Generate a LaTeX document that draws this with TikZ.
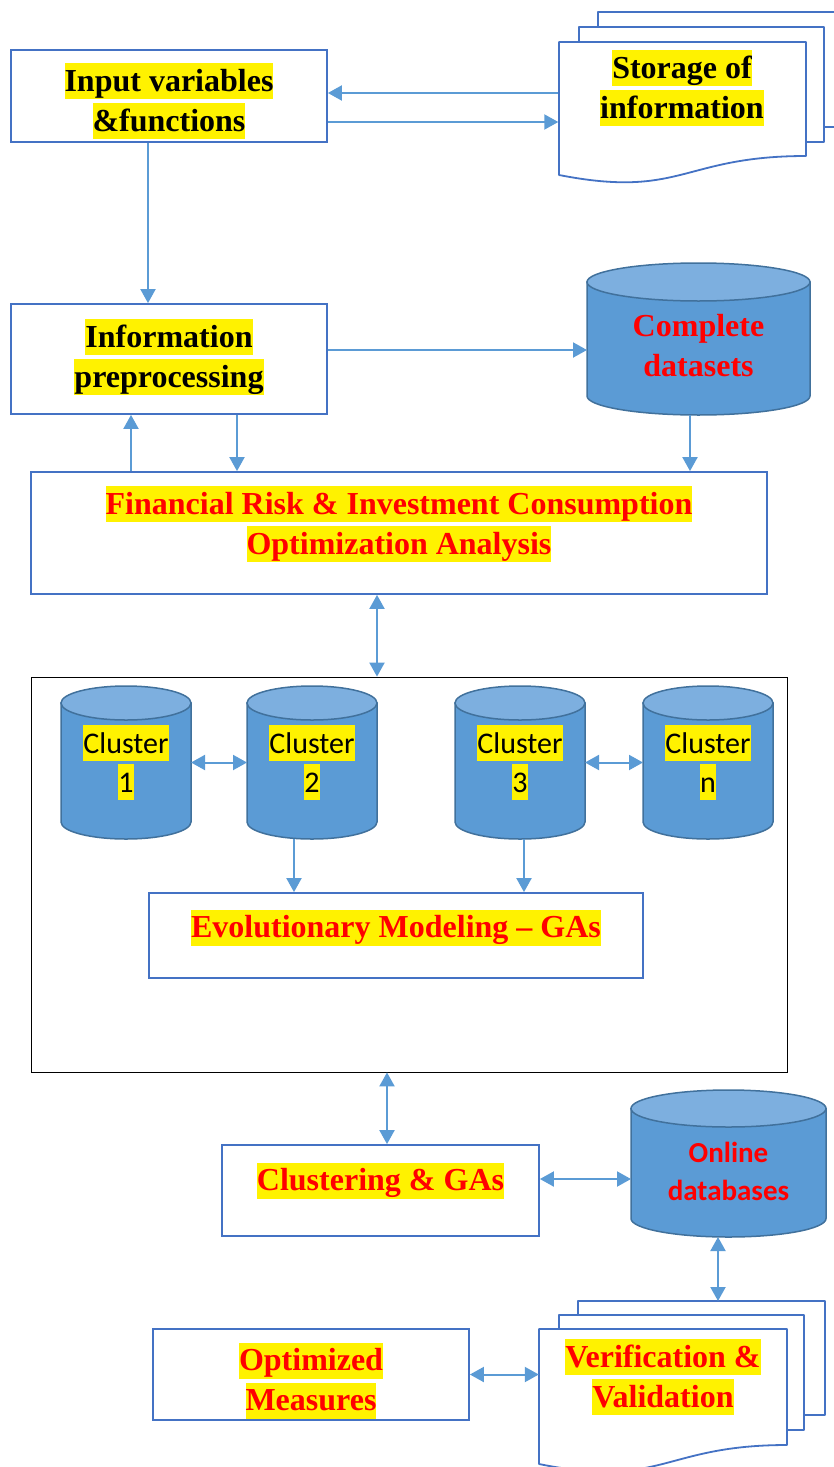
\documentclass[tikz,border=0pt]{standalone}
\usepackage{fontspec}
\setmainfont{Liberation Serif}
\newfontfamily\calfont{Carlito}
\usetikzlibrary{arrows.meta,backgrounds}
\definecolor{boxblue}{HTML}{4472C4}
\definecolor{arrblue}{HTML}{5B9BD5}
\definecolor{cylbody}{HTML}{5B9BD5}
\definecolor{cyltop}{HTML}{7DAFDF}
\definecolor{cylline}{HTML}{41719C}
\newcommand{\hl}[1]{{\setlength{\fboxsep}{0pt}\colorbox{yellow}{\rule[-8pt]{0pt}{36pt}#1}}}
% cylinder drawn round a named node: node, x radius, y radius
\newcommand{\dbshape}[3]{%
	\draw[dbline, fill=cylbody] ([yshift=-#3pt]#1.north west) -- ([yshift=#3pt]#1.south west)
		arc[start angle=180, end angle=360, x radius=#2pt, y radius=#3pt] -- ([yshift=-#3pt]#1.north east) -- cycle;
	\draw[dbline, fill=cyltop] ([yshift=-#3pt]#1.north) ellipse[x radius=#2pt, y radius=#3pt];}
\tikzset{
  box/.style={draw=boxblue, line width=1.8pt, inner sep=0pt},
  title/.style={font=\bfseries\fontsize{32}{40}\selectfont, align=center},
  arr/.style={draw=arrblue, line width=2pt, -{Triangle[length=14pt,width=15pt]}},
  darr/.style={arr, {Triangle[length=14pt,width=15pt]}-{Triangle[length=14pt,width=15pt]}},
  page/.style={draw=boxblue, line width=1.8pt, line join=round},
  dbnode/.style={inner sep=0pt, outer sep=0pt},
  dbline/.style={draw=cylline, line width=1.5pt},
  clusterdb/.style={dbnode, minimum width=130pt, minimum height=153pt,
    font=\calfont\fontsize{30}{39}\selectfont, align=center}
}
\begin{document}
\begin{tikzpicture}[x=1pt, y=-1pt]
	\useasboundingbox (0,0) rectangle (834,1467);
	
	% storage of information
	\draw[page] (598,27) -- (598,12) -- (846,12) -- (846,127) -- (824,127);
	\draw[page] (579,42) -- (579,27) -- (824,27) -- (824,142) -- (806,142);
	\draw[page, fill=white] (559,42) -- (806,42) -- (806,156) .. controls (682,156) and (682,199) .. (559,175) -- cycle;
	\node[title, minimum width=247pt, inner sep=0pt] (store) at (682,88) {\hl{Storage of}\\\hl{information}};
	
	\node[box, minimum width=316pt, minimum height=92pt,
		label={[title, yshift=-5pt]center:{\hl{Input variables}\\\hl{\&functions}}}] (input) at (169,96) {};
	\node[box, minimum width=316pt, minimum height=110pt,
		label={[title, yshift=2pt]center:{\hl{Information}\\\hl{preprocessing}}}] (info) at (169,359) {};
	\node[dbnode, minimum width=223pt, minimum height=152pt,
		label={[title, text=red, yshift=-7pt]center:{Complete\\datasets}}] (complete) at (698.5,339) {};
	\node[box, minimum width=736pt, minimum height=122pt,
		label={[title, text=red, yshift=9pt]center:{\hl{Financial Risk \& Investment Consumption}\\\hl{Optimization Analysis}}}] (fin) at (399,533) {};
	
	% clusters
	\node[draw=black, line width=0.8pt, minimum width=756pt, minimum height=395pt, inner sep=0pt] (frame) at (409,874.5) {};
	\node[clusterdb] (c1) at (126,762.5) {\hl{Cluster}\\\hl{1}};
	\node[clusterdb] (c2) at (312,762.5) {\hl{Cluster}\\\hl{2}};
	\node[clusterdb] (c3) at (520,762.5) {\hl{Cluster}\\\hl{3}};
	\node[clusterdb] (cn) at (708,762.5) {\hl{Cluster}\\\hl{n}};
	\node[box, minimum width=494pt, minimum height=85pt,
		label={[title, text=red, yshift=8pt]center:{\hl{Evolutionary Modeling -- GAs}}}] (evo) at (396,935.5) {};
	
	\node[box, minimum width=317pt, minimum height=91pt,
		label={[title, text=red, yshift=10pt]center:{\hl{Clustering \& GAs}}}] (clus) at (380.5,1190.5) {};
	\node[dbnode, minimum width=195pt, minimum height=147pt,
		label={[font=\calfont\bfseries\fontsize{29}{38}\selectfont, text=red, align=center, yshift=-7.5pt]center:{Online\\databases}}] (online) at (728.5,1163.5) {};
	
	% verification & validation
	\draw[page] (578,1315) -- (578,1301) -- (825,1301) -- (825,1415) -- (804,1415);
	\draw[page] (559,1329) -- (559,1315) -- (804,1315) -- (804,1430) -- (787,1430);
	\draw[page, fill=white] (539,1329) -- (787,1329) -- (787,1445) .. controls (663,1445) and (663,1489) .. (539,1464) -- cycle;
	\node[title, text=red, minimum width=248pt, inner sep=0pt] (verify) at (663,1377) {\hl{Verification \&}\\\hl{Validation}};
	\coordinate (vback) at (718,1301);
	\node[box, minimum width=316pt, minimum height=91pt,
		label={[title, text=red, yshift=-6pt]center:{\hl{Optimized}\\\hl{Measures}}}] (opt) at (311,1374.5) {};
	
	\begin{scope}[on background layer]
		\dbshape{complete}{111.5}{19}
		\dbshape{c1}{65}{17}
		\dbshape{c2}{65}{17}
		\dbshape{c3}{65}{17}
		\dbshape{cn}{65}{17}
		\dbshape{online}{97.5}{18.5}
	\end{scope}
	
	% connectors
	\draw[arr] (store.west) ++(0,5) -- ([yshift=3pt]input.east);
	\draw[arr] ([yshift=-26pt]input.east) -- ([yshift=-34pt]store.west);
	\draw[arr] ([xshift=-21pt]input.south) -- ([xshift=-21pt]info.north);
	\draw[arr] ([yshift=9pt]info.east) -- ([yshift=-11pt]complete.west);
	\draw[arr] ([xshift=-8.5pt]complete.south) -- ([xshift=291pt]fin.north);
	\draw[arr] ([xshift=-268pt]fin.north) -- ([xshift=-38pt]info.south);
	\draw[arr] ([xshift=68pt]info.south) -- ([xshift=-162pt]fin.north);
	\draw[darr] ([xshift=-22pt]fin.south) -- ([xshift=-32pt]frame.north);
	\draw[darr] (c1.east) -- (c2.west);
	\draw[darr] (c3.east) -- (cn.west);
	\draw[arr] ([xshift=-18pt]c2.south) -- ([xshift=-102pt]evo.north);
	\draw[arr] ([xshift=4pt]c3.south) -- ([xshift=128pt]evo.north);
	\draw[darr] ([xshift=-22pt]frame.south) -- ([xshift=6.5pt]clus.north);
	\draw[darr] ([yshift=11.5pt]clus.east) -- ([yshift=-15.5pt]online.west);
	\draw[darr] ([xshift=-10.5pt]online.south) -- (vback);
	\draw[darr] (opt.east) -- (opt.east -| verify.west);
	
\end{tikzpicture}
\end{document}
